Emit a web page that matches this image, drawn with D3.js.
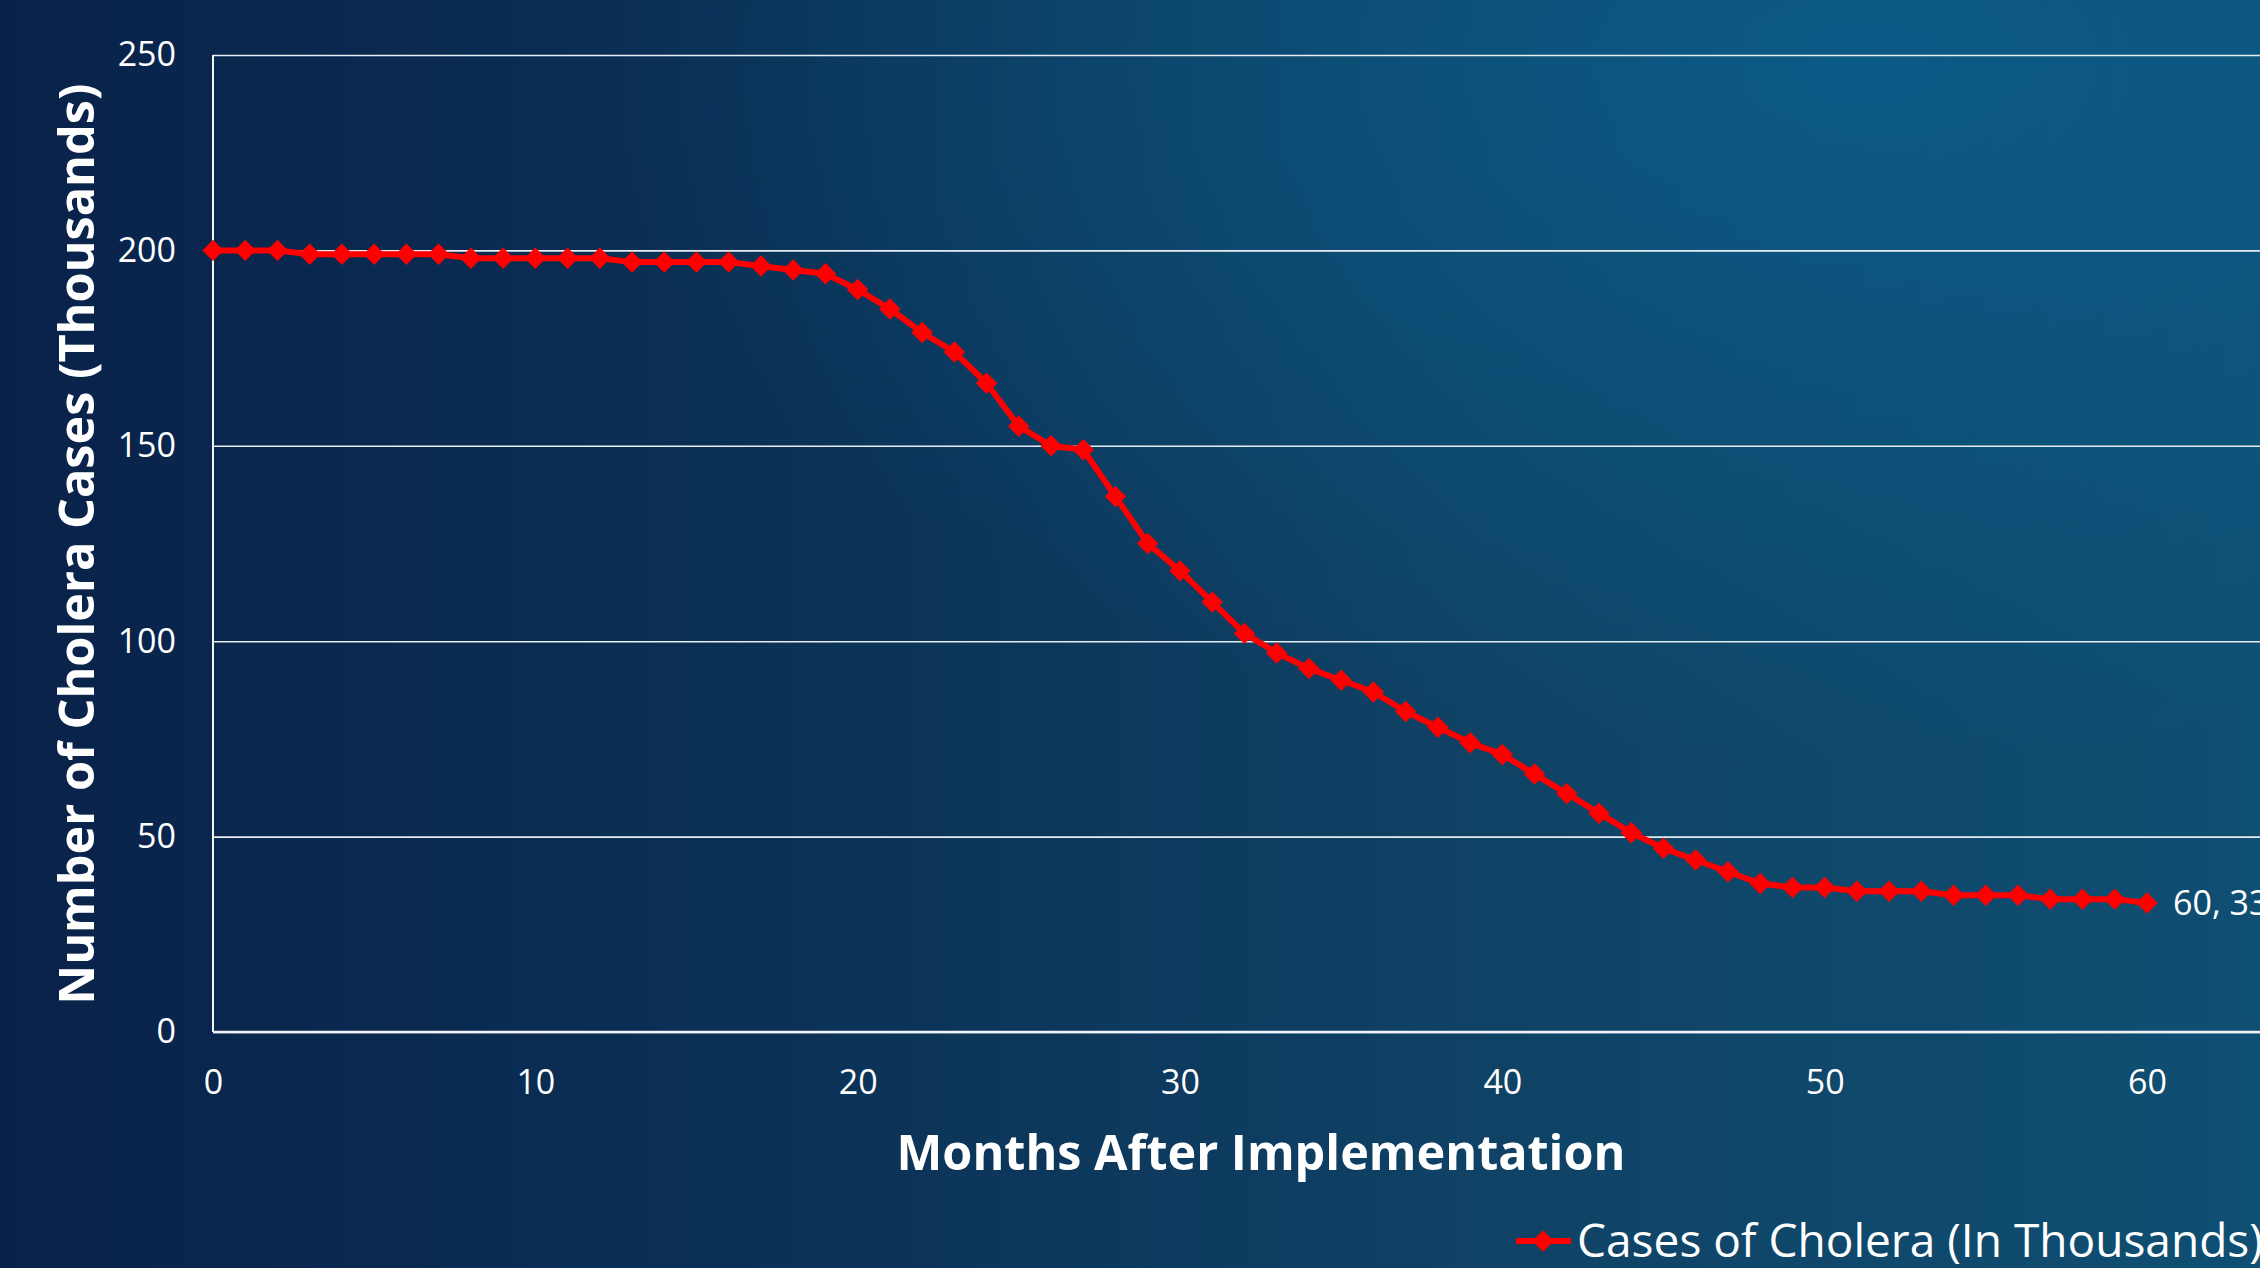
<!DOCTYPE html>
<html lang="en">
<head>
<meta charset="UTF-8">
<title>Cases of Cholera</title>
<script src="https://d3js.org/d3.v7.min.js"></script>
<style>
  html, body { margin: 0; padding: 0; overflow: hidden; background: #0b2a4c; }
  svg { display: block; font-family: "Open Sans", "Noto Sans", sans-serif; }
</style>
</head>
<body>
<svg id="chart" width="2260" height="1268"></svg>
<script>
  // months after implementation and cases (thousands)
  const months = [0,1,2,3,4,5,6,7,8,9,10,11,12,13,14,15,16,17,18,19,20,
    21,22,23,24,25,26,27,28,29,30,31,32,33,34,35,36,37,38,39,40,
    41,42,43,44,45,46,47,48,49,50,51,52,53,54,55,56,57,58,59,60];
  const cases = [200,200,200,199,199,199,199,199,198,198,198,198,198,197,197,197,197,196,195,194,190,
    185,179,174,166,155,150,149,137,125,118,110,102,97,93,90,87,82,78,74,71,
    66,61,56,51,47,44,41,38,37,37,36,36,36,35,35,35,34,34,34,33];
  const xTicks = [0,10,20,30,40,50,60];
  const yTicks = [0,50,100,150,200,250];
  const seriesName = "Cases of Cholera (In Thousands)";

  const W = 2260, H = 1268;
  const m = { left: 213, top: 55, bottom: 1032 };

  const svg = d3.select("#chart");

  // background
  const defs = svg.append("defs");
  const lg = defs.append("linearGradient").attr("id", "bg").attr("x1", 0).attr("x2", 1).attr("y1", 0).attr("y2", 0);
  [["0%", "#09224a"], ["35%", "#0b3156"], ["65%", "#0f4265"], ["100%", "#0f4f73"]]
    .forEach(s => lg.append("stop").attr("offset", s[0]).attr("stop-color", s[1]));
  const rg = defs.append("radialGradient").attr("id", "glow")
    .attr("cx", "0.82").attr("cy", "0.05").attr("r", "0.55");
  rg.append("stop").attr("offset", "0%").attr("stop-color", "#0a5e8c").attr("stop-opacity", 0.8);
  rg.append("stop").attr("offset", "100%").attr("stop-color", "#0a5e8c").attr("stop-opacity", 0);

  svg.append("rect").attr("width", W).attr("height", H).attr("fill", "url(#bg)");
  svg.append("rect").attr("width", W).attr("height", H).attr("fill", "url(#glow)");

  const x = d3.scaleLinear().domain([0, 60]).range([m.left, 2147]);
  const y = d3.scaleLinear().domain([0, 250]).range([m.bottom, m.top]);

  // y axis with gridlines
  const gy = svg.append("g")
    .attr("transform", `translate(${m.left},0)`)
    .call(d3.axisLeft(y).tickValues(yTicks).tickSize(-(W - m.left)).tickPadding(37));
  gy.select(".domain").remove();
  gy.selectAll(".tick line").attr("stroke", "#e8edf2").attr("stroke-width", 1.6);
  gy.selectAll(".tick text").attr("fill", "#ffffff").attr("font-size", 34)
    .attr("font-family", "'Open Sans', sans-serif");

  // x axis labels
  const gx = svg.append("g")
    .attr("transform", `translate(0,${m.bottom})`)
    .call(d3.axisBottom(x).tickValues(xTicks).tickSize(0).tickPadding(38));
  gx.select(".domain").remove();
  gx.selectAll(".tick text").attr("fill", "#ffffff").attr("font-size", 34)
    .attr("font-family", "'Open Sans', sans-serif");

  // axis lines
  svg.append("line").attr("x1", m.left).attr("x2", m.left).attr("y1", m.top).attr("y2", m.bottom)
    .attr("stroke", "#f0f4f8").attr("stroke-width", 2);
  svg.append("line").attr("x1", m.left).attr("x2", W).attr("y1", m.bottom).attr("y2", m.bottom)
    .attr("stroke", "#f0f4f8").attr("stroke-width", 2.5);

  // series
  const pts = months.map((d, i) => [d, cases[i]]);
  svg.append("path")
    .datum(pts)
    .attr("fill", "none")
    .attr("stroke", "#ff0000")
    .attr("stroke-width", 6)
    .attr("stroke-linejoin", "round")
    .attr("d", d3.line().x(d => x(d[0])).y(d => y(d[1])));

  const diamond = d3.symbol(d3.symbolSquare, 230);
  svg.append("g").selectAll("path")
    .data(pts)
    .join("path")
    .attr("d", diamond)
    .attr("fill", "#ff0000")
    .attr("transform", d => `translate(${x(d[0])},${y(d[1])}) rotate(45)`);

  // label on last point
  const last = pts[pts.length - 1];
  svg.append("text")
    .attr("x", x(last[0]) + 26)
    .attr("y", y(last[1]))
    .attr("dy", "0.35em")
    .attr("fill", "#ffffff")
    .attr("font-size", 34)
    .text(`${last[0]}, ${last[1]}`);

  // fit text to a width
  function fit(t, width) {
    const w = t.node().getComputedTextLength();
    const fs = parseFloat(t.attr("font-size"));
    t.attr("font-size", fs * width / w);
  }

  const yt = svg.append("text")
    .attr("transform", "translate(94,544) rotate(-90)")
    .attr("text-anchor", "middle")
    .attr("fill", "#ffffff")
    .attr("font-weight", 700)
    .attr("font-size", 44)
    .text("Number of Cholera Cases (Thousands)");
  fit(yt, 921);

  const xt = svg.append("text")
    .attr("x", 1261).attr("y", 1170)
    .attr("text-anchor", "middle")
    .attr("fill", "#ffffff")
    .attr("font-weight", 700)
    .attr("font-size", 48)
    .text("Months After Implementation");
  fit(xt, 729);

  // legend
  const lgd = svg.append("g");
  lgd.append("line").attr("x1", 1516).attr("x2", 1571).attr("y1", 1241).attr("y2", 1241)
    .attr("stroke", "#ff0000").attr("stroke-width", 6);
  lgd.append("path").attr("d", diamond)
    .attr("fill", "#ff0000")
    .attr("transform", "translate(1543,1241) rotate(45)");
  const lt = lgd.append("text")
    .attr("x", 1577).attr("y", 1257)
    .attr("fill", "#ffffff")
    .attr("font-size", 44)
    .text(seriesName);
  fit(lt, 686);
</script>
</body>
</html>
